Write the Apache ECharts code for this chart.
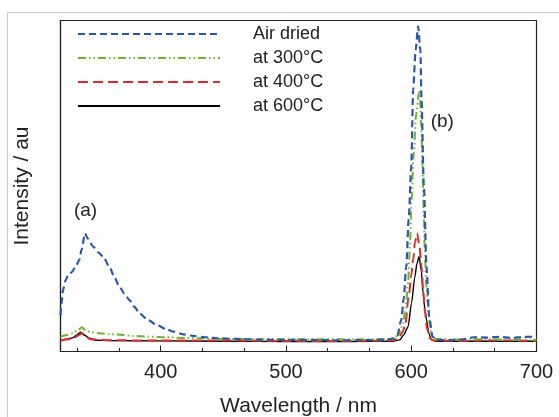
<!DOCTYPE html>
<html>
<head>
<meta charset="utf-8">
<script src="https://cdn.jsdelivr.net/npm/echarts@6/dist/echarts.min.js"></script>
<style>
html,body{margin:0;padding:0;background:#fff;}
#chart{width:559px;height:417px;}
</style>
</head>
<body>
<div id="chart"></div>
<script>
// Wavelength (nm) / Intensity (au, 0-100 scale) pairs
const seriesNames = ['Air dried', 'at 300°C', 'at 400°C', 'at 600°C'];
const majorTicks = [400, 500, 600, 700];
const minorTicks = [333.33, 366.67, 433.33, 466.67, 533.33, 566.67, 633.33, 666.67];

const airDried = [[320,11],[321,15],[322,18.6],[324,21.5],[326,23],[329,24],[332,25.5],[335,27.7],[337,31],[339.5,35.7],[342,34],[346,31.7],[350,30],[354,28.7],[359,25.6],[363,22.5],[367,19.6],[371,17.5],[375,15.6],[379,13.5],[383,11.5],[390,9.5],[397,8],[404,6.8],[410,6],[418,5.2],[426,4.7],[435,4.3],[445,4],[460,3.8],[480,3.6],[500,3.5],[520,3.5],[540,3.4],[560,3.4],[580,3.5],[586,4],[589,5],[592,9.5],[594,16],[596,25.6],[598,40],[600,55.9],[601.5,79],[603.5,91],[605.5,98.2],[607.3,91],[608.2,76],[610,50.9],[612.2,25.6],[614.3,10.5],[617,4.5],[620,3.5],[630,3.4],[640,3.6],[650,4.3],[660,4.2],[670,4.4],[680,4.1],[690,4.4],[700,4.5]];

const at300 = [[320,4.5],[325,5],[330,5.5],[334,6.5],[337,7.3],[340,6.5],[344,5.8],[351,5.5],[360,5.2],[370,5],[378,4.7],[390,4.5],[404,4.3],[420,4.1],[431,4],[450,3.8],[480,3.7],[520,3.7],[560,3.7],[585,3.8],[590,5],[593.5,8.5],[595.5,13],[597.5,20.7],[599,32],[600.2,45.8],[602,60],[604,72],[606,78],[606.8,79],[608,68],[609,55.9],[610,42],[610.8,30.7],[612,20],[613.5,13.5],[615,7.5],[616.2,4.5],[620,3.8],[640,3.6],[660,3.7],[680,3.6],[700,3.5]];

const at400 = [[320,3.3],[330,3.8],[334,4.8],[337,5.5],[340,4.5],[344,3.7],[360,3.4],[400,3.3],[450,3.3],[500,3.2],[550,3.2],[585,3.3],[590,4],[592.5,5.5],[595,7.5],[598.3,17.6],[600,23],[601.5,27.7],[603,33],[604.7,35.7],[606.5,32],[608.2,25.6],[609.5,18.5],[610.8,12.5],[612.5,7],[614.8,4],[618,3.3],[640,3.2],[660,3.3],[680,3.3],[700,3.2]];

const at600 = [[320,3.3],[325,3.7],[330,4.2],[333,5],[336,5.8],[339,5],[343,4],[348,3.4],[360,3.3],[400,3.2],[450,3.1],[500,3],[550,3],[585,3.1],[590.9,3.5],[594,5],[597.5,7.5],[600.2,14.6],[602.9,22.6],[604.5,26.5],[606.3,28.7],[608,24.5],[609.5,17.6],[611,12.5],[612.2,9.5],[614,5.5],[616.2,3.5],[620,3.1],[650,3.1],[680,3.1],[700,3.1]];

const annotations = [{text:'(a)', coord:[340,42.5]}, {text:'(b)', coord:[624.8,69.5]}];

const FONT = '"Liberation Sans", Arial, sans-serif';
const chart = echarts.init(document.getElementById('chart'), null, {renderer:'canvas'});

function lineSeries(name, data, color, width, dash, extra) {
  return Object.assign({
    name, type:'line', data, xAxisIndex:0, symbol:'none', smooth:0.25, smoothMonotone:'x',
    lineStyle:{color, width, type:dash}, itemStyle:{color}, animation:false, z:2
  }, extra || {});
}

const option = {
  animation:false,
  backgroundColor:'#fff',
  graphic:[{type:'rect', shape:{x:7.5,y:12.5,width:700,height:600}, style:{fill:null, stroke:'#c8c8c8', lineWidth:1}, z:-10, silent:true}],
  grid:{left:60.5, right:22.5, top:20.5, bottom:65.5, outerBoundsMode:'none', containLabel:false, show:true, borderColor:'#222', borderWidth:1.2, backgroundColor:'transparent'},
  legend:{
    orient:'vertical', left:77, top:24, padding:0, itemWidth:142, itemHeight:14, itemGap:4,
    itemStyle:{opacity:0},
    textStyle:{fontSize:18, lineHeight:20, color:'#222', fontFamily:FONT, padding:[0,0,0,28]},
    data:seriesNames
  },
  xAxis:[{
    type:'value', min:320, max:700,
    name:'Wavelength / nm', nameLocation:'middle', nameGap:44.5,
    nameTextStyle:{fontSize:21, color:'#222', fontFamily:FONT},
    axisLine:{show:true, lineStyle:{color:'#222', width:1.2}},
    axisTick:{show:true, inside:true, length:6, customValues:majorTicks, lineStyle:{color:'#222'}},
    axisLabel:{show:true, customValues:majorTicks, margin:11, fontSize:20, color:'#222', fontFamily:FONT},
    splitLine:{show:false}
  },{
    type:'value', min:320, max:700, position:'bottom',
    axisLine:{show:false},
    axisTick:{show:true, inside:true, length:3.5, customValues:minorTicks, lineStyle:{color:'#222'}},
    axisLabel:{show:false},
    splitLine:{show:false}
  }],
  yAxis:{
    type:'value', min:0, max:100,
    name:'Intensity / au', nameLocation:'middle', nameGap:28,
    nameTextStyle:{fontSize:21, color:'#222', fontFamily:FONT},
    axisLine:{show:true, lineStyle:{color:'#222', width:1.2}},
    axisTick:{show:false}, axisLabel:{show:false}, splitLine:{show:false}
  },
  series:[
    lineSeries(seriesNames[3], at600, '#000000', 1.4, 'solid'),
    lineSeries(seriesNames[2], at400, '#e5282e', 2, [10,5]),
    lineSeries(seriesNames[1], at300, '#6db22f', 2, [8,3,1.5,3,1.5,3]),
    lineSeries(seriesNames[0], airDried, '#2d56a6', 2.2, [7,4], {
      markPoint:{
        symbol:'circle', symbolSize:0, silent:true,
        label:{show:true, position:'inside', fontSize:19, color:'#222', fontFamily:FONT, formatter:p=>p.name},
        data:annotations.map(a=>({name:a.text, coord:a.coord}))
      }
    })
  ]
};
chart.setOption(option);
</script>
</body>
</html>
